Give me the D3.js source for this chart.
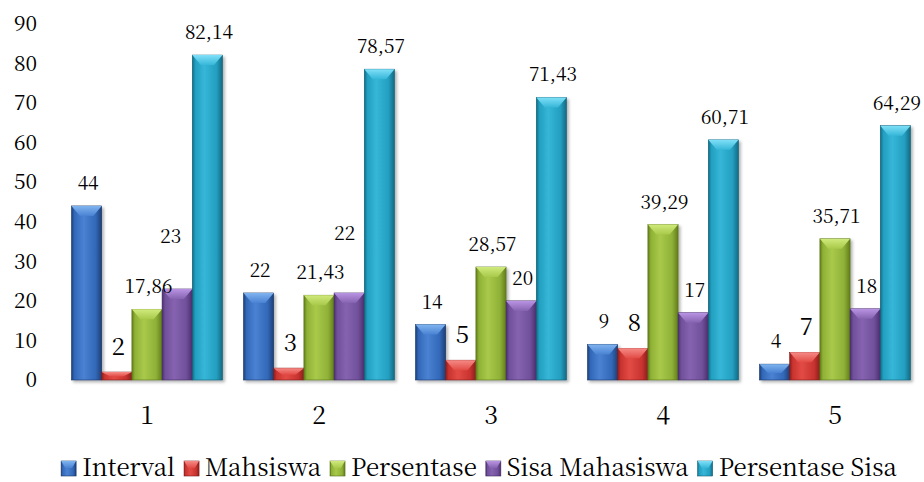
<!DOCTYPE html>
<html>
<head>
<meta charset="utf-8">
<script src="https://cdn.jsdelivr.net/npm/d3@7"></script>
<style>
  html, body { margin: 0; padding: 0; background: #ffffff; }
  svg { display: block; }
</style>
</head>
<body>
<svg id="chart" width="924" height="482"></svg>
<script>
// ---- data ----
const categories = ["1", "2", "3", "4", "5"];
const seriesNames = ["Interval", "Mahsiswa", "Persentase", "Sisa Mahasiswa", "Persentase Sisa"];
const interval = [44, 22, 14, 9, 4];
const mahsiswa = [2, 3, 5, 8, 7];
const persentase = [17.86, 21.43, 28.57, 39.29, 35.71];
const sisaMahasiswa = [23, 22, 20, 17, 18];
const persentaseSisa = [82.14, 78.57, 71.43, 60.71, 64.29];
const yTicks = [0, 10, 20, 30, 40, 50, 60, 70, 80, 90];

const seriesValues = [interval, mahsiswa, persentase, sisaMahasiswa, persentaseSisa];

// ---- styling ----
const FONT = '"Noto Serif CJK SC"';
const palette = [
  { dark: "#1d3f78", mid: "#3368b8", light: "#4a82d2", top: "#7fb4f0", stroke: "#1a3868" },
  { dark: "#8e1f1d", mid: "#c9332f", light: "#e24b45", top: "#f58a86", stroke: "#7a1a18" },
  { dark: "#627d1c", mid: "#8fb136", light: "#a8c94a", top: "#d0ea7c", stroke: "#56701a" },
  { dark: "#4a2f6e", mid: "#70509a", light: "#8663b0", top: "#b994e4", stroke: "#3f285f" },
  { dark: "#136a84", mid: "#239fc0", light: "#36b6d8", top: "#7fe0f8", stroke: "#115e75" }
];
// Labels for the "Sisa Mahasiswa" bars in the first two groups sit higher up.
const labelNudges = [
  { series: 3, group: 0, dx: -6.5, dy: -30 },
  { series: 3, group: 1, dx: -4.5, dy: -37 }
];

const svg = d3.select("#chart");
const defs = svg.append("defs");

const shadow = defs.append("filter").attr("id", "shadow")
  .attr("x", "-20%").attr("y", "-10%").attr("width", "150%").attr("height", "130%");
shadow.append("feDropShadow").attr("dx", 2).attr("dy", 2)
  .attr("stdDeviation", 1.8).attr("flood-color", "#000").attr("flood-opacity", 0.3);

palette.forEach((p, i) => {
  const g = defs.append("linearGradient").attr("id", "body" + i)
    .attr("x1", "0").attr("x2", "1").attr("y1", "0").attr("y2", "0");
  [[0, p.dark], [0.1, p.mid], [0.4, p.light], [0.8, p.mid], [1, p.dark]].forEach(([o, c]) =>
    g.append("stop").attr("offset", o).attr("stop-color", c));
  const t = defs.append("linearGradient").attr("id", "top" + i)
    .attr("x1", "0").attr("x2", "0").attr("y1", "0").attr("y2", "1");
  t.append("stop").attr("offset", 0).attr("stop-color", p.top);
  t.append("stop").attr("offset", 1).attr("stop-color", p.light);
});

// ---- scales ----
const x0 = d3.scaleBand().domain(categories).range([61, 921])
  .paddingInner(0.122).paddingOuter(0.061);
const x1 = d3.scaleBand().domain(d3.range(seriesNames.length)).range([0, x0.bandwidth()]);
const y = d3.scaleLinear().domain([0, 90]).range([380, 24]);

// ---- axes ----
const yAxis = svg.append("g").attr("transform", "translate(61,0)")
  .call(d3.axisLeft(y).tickValues(yTicks).tickSize(0).tickSizeOuter(0).tickPadding(24));
yAxis.selectAll("text").style("font-family", FONT).style("font-size", "21px").attr("fill", "#000");
yAxis.select(".domain").attr("stroke", "#9a9a9a").attr("stroke-width", 2).attr("filter", "url(#shadow)");

const xAxis = svg.append("g").attr("transform", "translate(0,381)")
  .call(d3.axisBottom(x0).tickSize(0).tickSizeOuter(0).tickPadding(25));
xAxis.selectAll("text").style("font-family", FONT).style("font-size", "25px").attr("fill", "#000");
xAxis.select(".domain").attr("stroke", "#9a9a9a").attr("stroke-width", 2).attr("filter", "url(#shadow)");

// ---- bars ----
function drawBar(g, si, x, yTop, w, h, bevelMax) {
  const p = palette[si];
  g.append("rect").attr("x", x).attr("y", yTop).attr("width", w).attr("height", h)
    .attr("fill", `url(#body${si})`).attr("stroke", p.stroke).attr("stroke-width", 0.6);
  const b = Math.min(bevelMax, h * 0.55);
  const inset = w * 0.28;
  g.append("path")
    .attr("d", `M${x},${yTop}L${x + w},${yTop}L${x + w - inset},${yTop + b}L${x + inset},${yTop + b}Z`)
    .attr("fill", `url(#top${si})`);
}

const plot = svg.append("g");
categories.forEach((cat, gi) => {
  const grp = plot.append("g").attr("filter", "url(#shadow)");
  seriesValues.forEach((vals, si) => {
    const v = vals[gi];
    const bx = x0(cat) + x1(si);
    drawBar(grp, si, bx, y(v), x1.bandwidth(), y(0) - y(v), 10);
  });
});

// ---- value labels ----
const fmt = v => String(v).replace(".", ",");
const labels = svg.append("g");
categories.forEach((cat, gi) => {
  seriesValues.forEach((vals, si) => {
    const v = vals[gi];
    const big = si === 1;
    const n = labelNudges.find(d => d.series === si && d.group === gi) || { dx: 1.5, dy: 0 };
    labels.append("text")
      .attr("x", x0(cat) + x1(si) + x1.bandwidth() / 2 + n.dx)
      .attr("y", y(v) - (big ? 17 : 16) + n.dy)
      .attr("text-anchor", "middle")
      .style("font-family", FONT)
      .style("font-size", big ? "24px" : "19px")
      .text(fmt(v));
  });
});

// ---- legend ----
const legend = svg.append("g");
let lx = 0;
seriesNames.forEach((name, si) => {
  const item = legend.append("g").attr("transform", `translate(${lx},0)`);
  drawBar(item, si, 0, 461, 15, 15, 7);
  const t = item.append("text").attr("x", 21).attr("y", 476)
    .style("font-family", FONT).style("font-size", "24px").text(name);
  lx += 21 + t.node().getComputedTextLength() + 9;
});
const legendWidth = lx - 9;
legend.attr("transform", `translate(${479 - legendWidth / 2},0)`);
</script>
</body>
</html>
